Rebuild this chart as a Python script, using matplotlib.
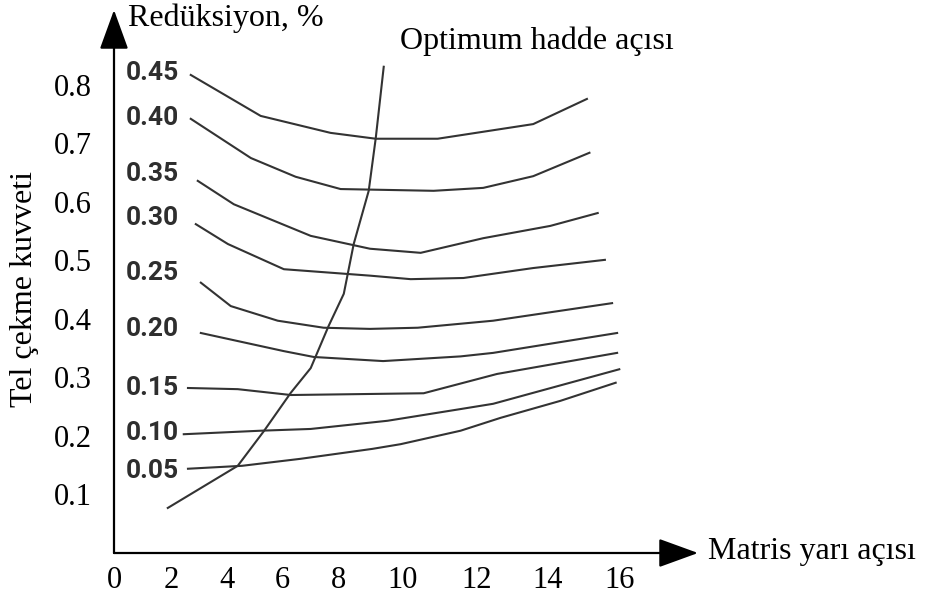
import numpy as np
import matplotlib
matplotlib.use("Agg")
import matplotlib.pyplot as plt

plt.rcParams['font.family'] = ['Liberation Serif', 'DejaVu Serif']

# Matris yarı açısı (x) ve tel çekme kuvveti (y), her redüksiyon oranı için
r045_x = [2.71, 5.21, 7.71, 9.16, 10.95, 13.6, 15.1]
r045_y = [0.817, 0.747, 0.718, 0.708, 0.708, 0.733, 0.776]
r040_x = [2.71, 4.86, 6.46, 8.06, 10.84, 12.19, 13.6, 15.17]
r040_y = [0.742, 0.675, 0.643, 0.622, 0.619, 0.624, 0.644, 0.684]
r035_x = [2.96, 4.25, 7.0, 8.98, 10.49, 12.19, 14.08, 15.4]
r035_y = [0.636, 0.596, 0.542, 0.520, 0.513, 0.538, 0.559, 0.581]
r030_x = [2.89, 4.04, 6.04, 8.98, 10.22, 11.65, 13.6, 15.6]
r030_y = [0.562, 0.528, 0.485, 0.474, 0.468, 0.470, 0.487, 0.501]
r025_x = [3.07, 4.14, 5.82, 7.46, 8.98, 10.41, 12.47, 15.8]
r025_y = [0.462, 0.422, 0.397, 0.385, 0.383, 0.385, 0.397, 0.427]
r020_x = [3.07, 6.04, 7.11, 9.39, 11.57, 12.47, 15.94]
r020_y = [0.376, 0.345, 0.335, 0.328, 0.336, 0.342, 0.376]
r015_x = [2.61, 4.39, 6.29, 10.57, 12.58, 15.94]
r015_y = [0.282, 0.280, 0.270, 0.273, 0.306, 0.342]
r010_x = [2.46, 5.21, 7.0, 9.53, 11.57, 12.47, 16.0]
r010_y = [0.203, 0.209, 0.212, 0.226, 0.246, 0.255, 0.314]
r005_x = [2.61, 4.54, 6.64, 9.06, 9.94, 11.57, 12.68, 14.36, 15.9]
r005_y = [0.144, 0.149, 0.161, 0.178, 0.186, 0.209, 0.231, 0.260, 0.291]

# optimum hadde açısı eğrisi
opt_x = [1.89, 4.39, 5.32, 6.29, 7.0, 7.64, 8.16, 8.47, 8.94, 9.16, 9.41]
opt_y = [0.077, 0.149, 0.208, 0.274, 0.316, 0.388, 0.443, 0.528, 0.619, 0.709, 0.831]

reductions = ['0.45', '0.40', '0.35', '0.30', '0.25', '0.20', '0.15', '0.10', '0.05']
curves_x = [r045_x, r040_x, r035_x, r030_x, r025_x, r020_x, r015_x, r010_x, r005_x]
curves_y = [r045_y, r040_y, r035_y, r030_y, r025_y, r020_y, r015_y, r010_y, r005_y]

x_ticks = [0, 2, 4, 6, 8, 10, 12, 14, 16]
y_ticks = [0.1, 0.2, 0.3, 0.4, 0.5, 0.6, 0.7, 0.8]

# label heights next to the curves
label_y = [0.821, 0.744, 0.648, 0.573, 0.479, 0.383, 0.282, 0.205, 0.140]

# the printed x scale is not evenly spaced: tick spacing in pixels
scale_val = [-10, 0, 2, 4, 6, 8, 10, 12, 14, 16, 30]
scale_pos = [-285, 0, 57, 113, 169, 225, 289, 363, 434, 506, 1010]


def fwd(x):
    return np.interp(x, scale_val, scale_pos)


def inv(p):
    return np.interp(p, scale_pos, scale_val)


W, H = 927, 601
fig = plt.figure(figsize=(W / 100, H / 100), dpi=100)
ax = fig.add_axes([114 / W, 1 - 553 / H, 584 / W, 543 / H])
ax.set_xscale('function', functions=(fwd, inv))
ax.set_xlim(0, 18.19)
ax.set_ylim(0, 0.928)

line_kw = dict(color='#333333', lw=1.5, solid_joinstyle='round')
for xs, ys in zip(curves_x, curves_y):
    ax.plot(xs, ys, **line_kw)
ax.plot(opt_x, opt_y, **line_kw)

for txt, yl in zip(reductions, label_y):
    ax.text(0.4, yl, txt, fontsize=19, fontweight='bold', family='Roboto',
            color='#2e2e2e', ha='left', va='center')

for s in ax.spines.values():
    s.set_visible(False)

arrow = dict(arrowstyle='-|>,head_length=0.55,head_width=0.2',
             mutation_scale=45, color='black', lw=1.6, shrinkA=0, shrinkB=0)
ax.annotate('', xy=(1, 0), xytext=(0, 0), xycoords='axes fraction',
            arrowprops=arrow, annotation_clip=False)
ax.annotate('', xy=(0, 1), xytext=(0, 0), xycoords='axes fraction',
            arrowprops=arrow, annotation_clip=False)

ax.set_xticks(x_ticks)
ax.set_xticklabels([str(t) for t in x_ticks])
ax.set_yticks(y_ticks)
ax.set_yticklabels([f'{t:.1f}' for t in y_ticks])
ax.tick_params(axis='x', length=0, pad=9, labelsize=22)
ax.tick_params(axis='y', length=0, pad=16, labelsize=22)

fig.text(128 / W, 1 - 18 / H, 'Redüksiyon, %', fontsize=23, ha='left', va='center')
fig.text(400 / W, 1 - 41 / H, 'Optimum hadde açısı', fontsize=23, ha='left', va='center')
fig.text(708 / W, 1 - 551 / H, 'Matris yarı açısı', fontsize=23, ha='left', va='center')
fig.text(25 / W, 1 - 289 / H, 'Tel çekme kuvveti', fontsize=23, rotation=90,
         ha='center', va='center')

fig.savefig('out.png', dpi=100, facecolor='white')
